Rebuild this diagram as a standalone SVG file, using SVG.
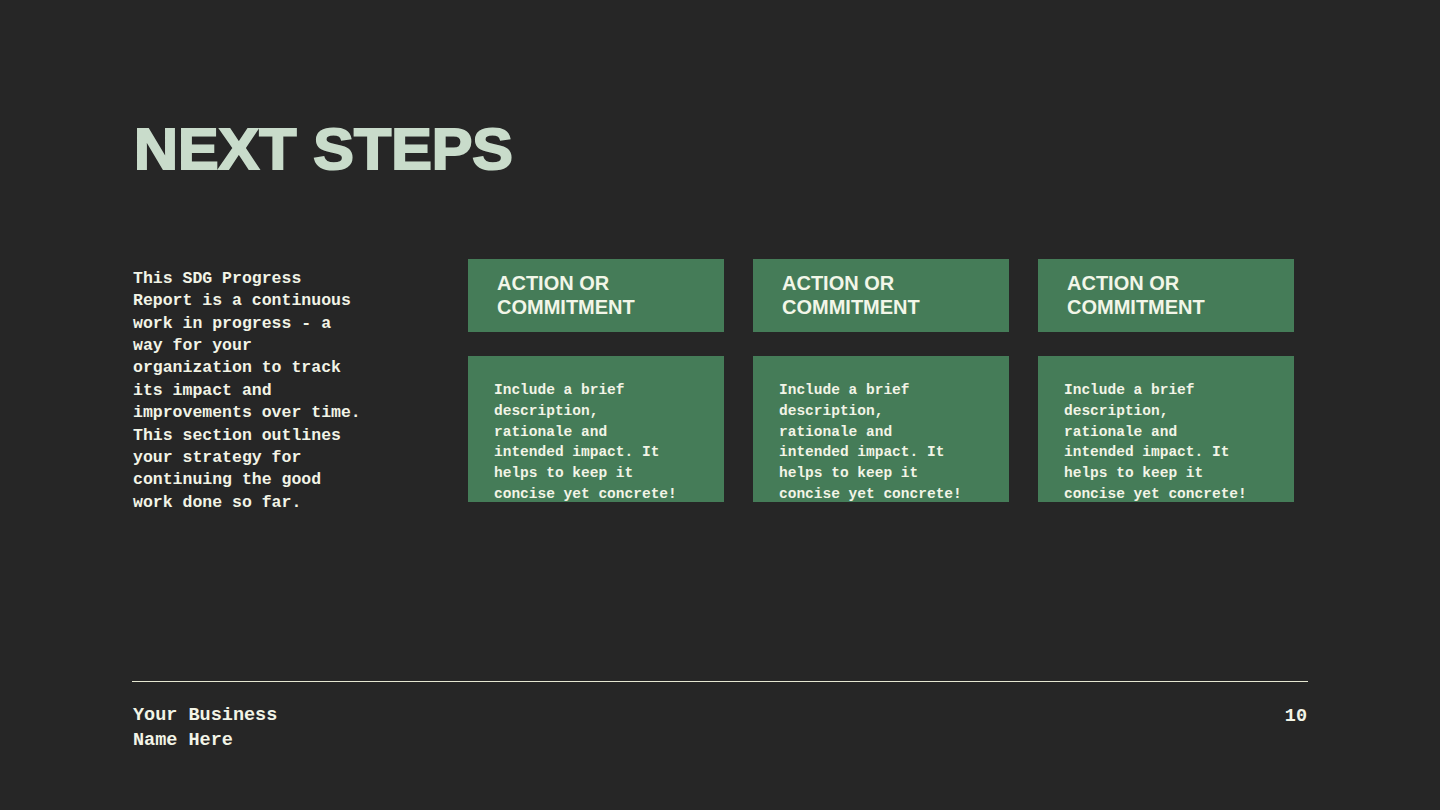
<svg xmlns="http://www.w3.org/2000/svg" width="1440" height="810" viewBox="0 0 1440 810">
<style>
.m{font-family:"Liberation Mono","DejaVu Sans Mono",monospace;fill:#f2f4e6;font-weight:bold}
.h{font-family:"Liberation Sans",Arial,sans-serif;font-weight:bold;font-size:20px;fill:#f2f6e8}
.box{fill:#457c58}
</style>
<rect width="1440" height="810" fill="#262626"/>
<text x="134" y="169" font-family="Liberation Sans,Arial,sans-serif" font-weight="900" font-size="58" fill="#c9dccb" textLength="379" lengthAdjust="spacingAndGlyphs" stroke="#c9dccb" stroke-width="2">NEXT STEPS</text>
<g id="intro" class="m" font-size="16.5">
<text x="133" y="283">This SDG Progress</text>
<text x="133" y="305">Report is a continuous</text>
<text x="133" y="328">work in progress - a</text>
<text x="133" y="350">way for your</text>
<text x="133" y="372">organization to track</text>
<text x="133" y="395">its impact and</text>
<text x="133" y="417">improvements over time.</text>
<text x="133" y="440">This section outlines</text>
<text x="133" y="462">your strategy for</text>
<text x="133" y="484">continuing the good</text>
<text x="133" y="507">work done so far.</text>
</g>
<g id="card1">
<rect class="box" x="468" y="259" width="256" height="73"/>
<text class="h" x="497" y="290">ACTION OR</text><text class="h" x="497" y="314">COMMITMENT</text>
<rect class="box" x="468" y="356" width="256" height="146"/>
<g class="m" font-size="14.5"><text x="494" y="394">Include a brief</text><text x="494" y="415">description,</text><text x="494" y="436">rationale and</text><text x="494" y="456">intended impact. It</text><text x="494" y="477">helps to keep it</text><text x="494" y="498">concise yet concrete!</text></g>
</g>
<g id="card2">
<rect class="box" x="753" y="259" width="256" height="73"/>
<text class="h" x="782" y="290">ACTION OR</text><text class="h" x="782" y="314">COMMITMENT</text>
<rect class="box" x="753" y="356" width="256" height="146"/>
<g class="m" font-size="14.5"><text x="779" y="394">Include a brief</text><text x="779" y="415">description,</text><text x="779" y="436">rationale and</text><text x="779" y="456">intended impact. It</text><text x="779" y="477">helps to keep it</text><text x="779" y="498">concise yet concrete!</text></g>
</g>
<g id="card3">
<rect class="box" x="1038" y="259" width="256" height="73"/>
<text class="h" x="1067" y="290">ACTION OR</text><text class="h" x="1067" y="314">COMMITMENT</text>
<rect class="box" x="1038" y="356" width="256" height="146"/>
<g class="m" font-size="14.5"><text x="1064" y="394">Include a brief</text><text x="1064" y="415">description,</text><text x="1064" y="436">rationale and</text><text x="1064" y="456">intended impact. It</text><text x="1064" y="477">helps to keep it</text><text x="1064" y="498">concise yet concrete!</text></g>
</g>
<g id="connectors"><line x1="132" y1="681.5" x2="1308" y2="681.5" stroke="#e6e8d2" stroke-width="1"/></g>
<g id="footer" class="m" font-size="18.5">
<text x="133" y="720">Your Business</text>
<text x="133" y="745">Name Here</text>
<text x="1307" y="721" text-anchor="end">10</text>
</g>
</svg>
